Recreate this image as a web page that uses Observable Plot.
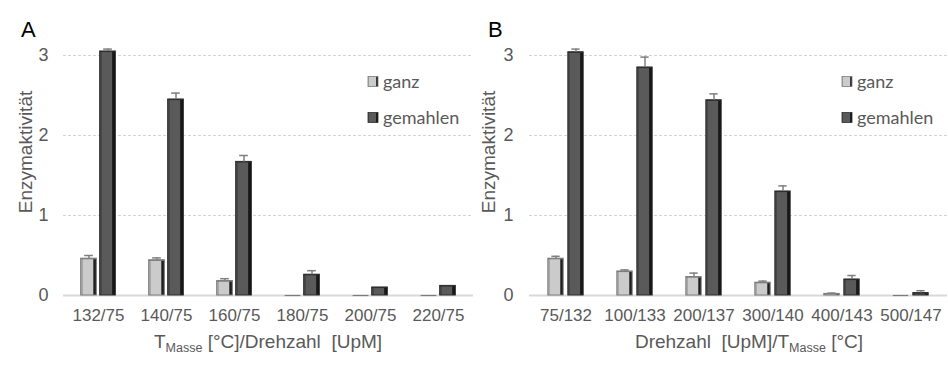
<!DOCTYPE html>
<html>
<head>
<meta charset="utf-8">
<script src="https://cdn.jsdelivr.net/npm/d3@7"></script>
<script src="https://cdn.jsdelivr.net/npm/@observablehq/plot@0.6"></script>
<style>
  html, body { margin: 0; padding: 0; background: #fff; }
  #wrap { position: relative; width: 948px; height: 374px; overflow: hidden; }
  #wrap svg { position: absolute; top: 0; }
  #wrap svg g[aria-label="x-axis tick label"] text { font-size: 17px; }
  #wrap svg g[aria-label="y-axis tick label"] text { font-size: 18px; }
</style>
</head>
<body>
<div id="wrap"></div>
<script>
// ---- Data ----
const series = ["ganz", "gemahlen"];
const yTicks = [0, 1, 2, 3];

const catsA = ["132/75", "140/75", "160/75", "180/75", "200/75", "220/75"];
const ganzA = [0.46, 0.44, 0.18, 0, 0, 0];
const ganzErrA = [0.04, 0.03, 0.03, 0, 0, 0];
const gemA = [3.05, 2.45, 1.67, 0.26, 0.10, 0.12];
const gemErrA = [0.03, 0.08, 0.08, 0.05, 0, 0];

const catsB = ["75/132", "100/133", "200/137", "300/140", "400/143", "500/147"];
const ganzB = [0.46, 0.30, 0.23, 0.16, 0.02, 0];
const ganzErrB = [0.03, 0.02, 0.05, 0.02, 0.01, 0];
const gemB = [3.04, 2.85, 2.44, 1.30, 0.20, 0.03];
const gemErrB = [0.04, 0.13, 0.08, 0.07, 0.05, 0.03];

const grad = {
  ganz: [[0, "#a8a8a8"], [0.13, "#a8a8a8"], [0.13, "#cbcbcb"], [0.78, "#cbcbcb"], [0.78, "#777"], [0.88, "#1e1e1e"], [1, "#1e1e1e"]],
  gemahlen: [[0, "#474747"], [0.13, "#474747"], [0.13, "#5a5a5a"], [0.78, "#5a5a5a"], [0.78, "#262626"], [1, "#0a0a0a"]]
};
const strokes = { ganz: "#7c7c7c", gemahlen: "#2e2e2e" };
const FONT = "'Liberation Sans', Arial, sans-serif";

function panel(o) {
  const W = 474, H = 374, mt = 31, mb = 79;
  const rows = o.cats.flatMap((c, i) => [
    { cat: c, s: "ganz", v: o.ganz[i], e: o.ganzErr[i] },
    { cat: c, s: "gemahlen", v: o.gem[i], e: o.gemErr[i] }
  ]);
  const bw = (W - o.ml - o.mr) / o.cats.length;
  const barW = 16;
  const inset = (bw - barW) / 2;
  const capInset = (bw - 9) / 2;
  const off = barW / 2 + o.gap / 2;
  const marks = [
    Plot.ruleY(yTicks.filter(d => d > 0), { stroke: "#d4d4d4", strokeDasharray: "3,2" }),
    Plot.ruleY([0], { stroke: "#d9d9d9", strokeWidth: 2 })
  ];
  for (const s of series) {
    const sub = rows.filter(d => d.s === s);
    const dx = s === "ganz" ? -off : off;
    marks.push(
      Plot.barY(sub, { x: "cat", y: "v", fill: `url(#${o.id}-${s})`, stroke: strokes[s], strokeWidth: 1, insetLeft: inset, insetRight: inset, dx }),
      Plot.tickY(sub, { x: "cat", y: "v", stroke: strokes[s], strokeWidth: 1.2, insetLeft: inset, insetRight: inset, dx }),
      Plot.ruleX(sub.filter(d => d.e > 0), { x: "cat", y1: "v", y2: d => d.v + d.e, stroke: "#7f7f7f", strokeWidth: 1.5, dx }),
      Plot.tickY(sub.filter(d => d.e > 0), { x: "cat", y: d => d.v + d.e, stroke: "#7f7f7f", strokeWidth: 1.5, insetLeft: capInset, insetRight: capInset, dx })
    );
  }
  marks.push(
    Plot.axisX({ tickSize: 0, tickPadding: 13, label: null, fontSize: 17 }),
    Plot.axisY({ ticks: yTicks, tickSize: 0, tickPadding: o.tp, label: null, fontSize: 18, tickFormat: d => String(d) })
  );
  const svg = Plot.plot({
    width: W, height: H,
    marginLeft: o.ml, marginRight: o.mr, marginTop: mt, marginBottom: mb,
    x: { domain: o.cats, padding: 0 },
    y: { domain: [0, 3.3] },
    style: { fontFamily: FONT, fontSize: "17px", color: "#595959", background: "transparent", overflow: "visible" },
    marks
  });
  svg.style.left = o.left + "px";
  const sel = d3.select(svg);
  const defs = sel.insert("defs", ":first-child");
  for (const s of series) {
    const g = defs.append("linearGradient").attr("id", `${o.id}-${s}`).attr("x1", 0).attr("x2", 1).attr("y1", 0).attr("y2", 0);
    for (const [off, col] of grad[s]) g.append("stop").attr("offset", off).attr("stop-color", col);
  }
  // panel letter
  sel.append("text").attr("x", o.letterX).attr("y", 37).attr("fill", "#000").attr("text-anchor", "start")
    .attr("font-size", 22).attr("font-family", FONT).text(o.letter);
  // y title
  sel.append("text").attr("transform", `translate(${o.yTitleX},152) rotate(-90)`).attr("text-anchor", "middle")
    .attr("dy", "0.35em").attr("fill", "#595959").attr("font-size", 19)
    .attr("font-family", FONT).text("Enzymaktivität");
  // x title with subscript
  const t = sel.append("text").attr("x", o.xTitleX).attr("y", 348).attr("text-anchor", "middle")
    .attr("fill", "#595959").attr("font-size", 19).attr("font-family", FONT)
    .style("white-space", "pre");
  for (const [txt, kind] of o.xTitle) {
    const ts = t.append("tspan").text(txt);
    if (kind === "sub") ts.attr("font-size", 12.5).attr("dy", 4);
    if (kind === "after") ts.attr("dy", -4);
  }
  // legend
  series.forEach((s, i) => {
    const cy = 81.5 + i * 36;
    sel.append("rect").attr("x", 368).attr("y", cy - 5).attr("width", 10).attr("height", 10)
      .attr("fill", `url(#${o.id}-${s})`).attr("stroke", strokes[s]).attr("stroke-width", 0.8);
    sel.append("text").attr("x", 383).attr("y", cy + 6).attr("fill", "#595959").attr("font-size", 18)
      .attr("text-anchor", "start").attr("font-family", "Lato, 'Open Sans', sans-serif").text(s);
  });
  return svg;
}

const wrap = document.getElementById("wrap");
wrap.appendChild(panel({
  id: "pa", left: 0, cats: catsA, ganz: ganzA, ganzErr: ganzErrA, gem: gemA, gemErr: gemErrA,
  ml: 63, mr: 1, tp: 15, gap: 3, letter: "A", letterX: 21, yTitleX: 25, xTitleX: 268,
  xTitle: [["T", "main"], ["Masse", "sub"], [" [°C]/Drehzahl  [UpM]", "after"]]
}));
wrap.appendChild(panel({
  id: "pb", left: 474, cats: catsB, ganz: ganzB, ganzErr: ganzErrB, gem: gemB, gemErr: gemErrB,
  ml: 55, mr: 1, tp: 16, gap: 4, letter: "B", letterX: 14, yTitleX: 14.5, xTitleX: 275,
  xTitle: [["Drehzahl  [UpM]/T", "main"], ["Masse", "sub"], [" [°C]", "after"]]
}));
</script>
</body>
</html>
